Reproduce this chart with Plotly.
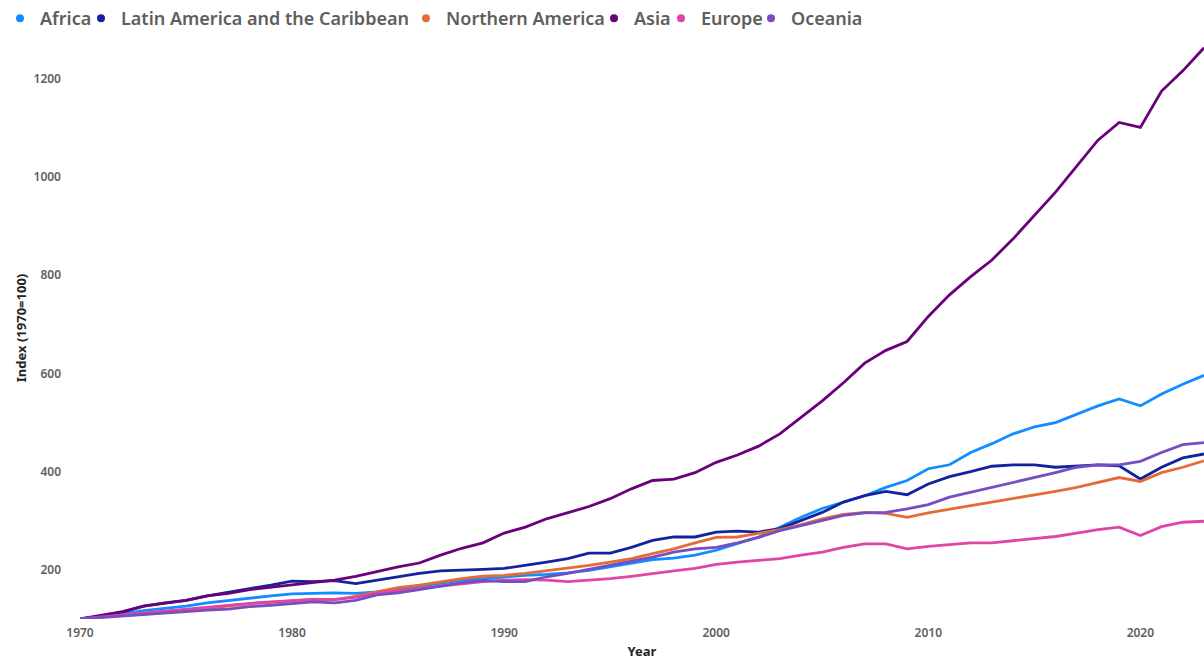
import plotly.graph_objects as go

years = list(range(1970, 2024))

africa = [100, 105, 111, 117, 122, 126, 133, 138, 142, 147,
          151, 152, 153, 152, 155, 160, 166, 172, 179, 182,
          186, 189, 191, 194, 199, 206, 214, 221, 224, 230,
          240, 254, 267, 287, 307, 325, 338, 351, 368, 382,
          406, 414, 439, 457, 477, 491, 500, 517, 534, 548,
          534, 558, 578, 596]

latin = [100, 106, 114, 126, 133, 138, 147, 155, 162, 169,
         177, 176, 178, 172, 179, 186, 193, 198, 199, 201,
         203, 209, 216, 223, 234, 234, 246, 260, 267, 267,
         277, 279, 277, 284, 301, 317, 338, 351, 360, 353,
         375, 390, 400, 411, 414, 414, 409, 412, 414, 412,
         385, 409, 428, 436]

north = [100, 104, 108, 113, 116, 117, 122, 126, 131, 134,
         137, 140, 139, 146, 155, 164, 169, 176, 182, 187,
         189, 193, 198, 203, 209, 216, 223, 233, 243, 255,
         266, 267, 274, 282, 292, 304, 313, 317, 315, 307,
         316, 324, 331, 338, 345, 353, 360, 368, 378, 388,
         380, 398, 409, 422]

asia = [100, 107, 115, 126, 132, 138, 147, 152, 160, 165,
        169, 174, 179, 187, 197, 206, 214, 230, 244, 255,
        275, 287, 304, 317, 329, 345, 365, 382, 385, 398,
        419, 434, 452, 477, 510, 544, 581, 621, 647, 665,
        716, 760, 797, 831, 874, 922, 969, 1022, 1075, 1111,
        1101, 1175, 1216, 1263]

europe = [100, 104, 108, 113, 117, 120, 124, 128, 132, 135,
          138, 140, 140, 144, 153, 157, 162, 167, 172, 176,
          179, 180, 179, 176, 179, 182, 187, 193, 198, 203,
          211, 216, 220, 223, 230, 236, 246, 253, 253, 243,
          248, 252, 255, 255, 259, 263, 268, 275, 282, 287,
          270, 288, 297, 299]

oceania = [100, 103, 106, 110, 113, 115, 118, 120, 125, 128,
           132, 135, 133, 138, 149, 153, 160, 167, 174, 178,
           176, 176, 186, 193, 201, 209, 218, 226, 236, 243,
           246, 255, 266, 280, 290, 301, 311, 316, 317, 324,
           333, 348, 358, 367, 377, 388, 398, 409, 414, 414,
           421, 439, 455, 459]

series_names = ["Africa", "Latin America and the Caribbean", "Northern America",
                "Asia", "Europe", "Oceania"]
series_values = [africa, latin, north, asia, europe, oceania]
series_colors = ["#118DFF", "#12239E", "#E66C37", "#6B007B", "#E044A7", "#744EC2"]

x_ticks = [1970, 1980, 1990, 2000, 2010, 2020]
y_ticks = [200, 400, 600, 800, 1000, 1200]

# legend entry widths (pixels) to tighten horizontal spacing
legend_widths = [36, 280, 143, 22, 45, 80]

fig = go.Figure()

for name, vals, col in zip(series_names, series_values, series_colors):
    fig.add_trace(go.Scatter(x=years, y=vals, mode="lines", name=name,
                             line=dict(color=col, width=2.8),
                             showlegend=False))

for name, col, lw in zip(series_names, series_colors, legend_widths):
    fig.add_trace(go.Scatter(x=[None], y=[None], mode="markers", name=name,
                             marker=dict(color=col, size=8, symbol="circle"),
                             legendwidth=lw, showlegend=True))

tick_font = dict(size=12, color="#605E5C", family="Noto Sans", weight=600)
title_font = dict(size=13, color="#252423", family="Noto Sans", weight=700)

fig.update_layout(
    width=1204, height=660,
    margin=dict(l=80, r=0, t=35, b=41),
    paper_bgcolor="white", plot_bgcolor="white",
    font=dict(family="Noto Sans, Open Sans, sans-serif"),
    legend=dict(orientation="h", x=0.0, xref="container", y=1.0, yref="container",
                xanchor="left", yanchor="top",
                font=dict(size=18, color="#605E5C", family="Noto Sans", weight=600),
                itemwidth=30, tracegroupgap=0, bgcolor="rgba(0,0,0,0)"),
    xaxis=dict(range=[1970, 2023], tickvals=x_ticks, showgrid=False, zeroline=False,
               showline=False, ticks="", ticklabelstandoff=5,
               tickfont=tick_font,
               title=dict(text="Year", font=title_font, standoff=6)),
    yaxis=dict(range=[100, 1285], tickvals=y_ticks, showgrid=False, zeroline=False,
               showline=False, ticks="", ticklabelstandoff=18,
               tickfont=tick_font,
               title=dict(text="Index (1970=100)", font=title_font, standoff=3)),
)

fig.write_html("out.html",
               config={"displayModeBar": False},
               post_script="document.body.style.margin='0';document.body.style.overflow='hidden';")
